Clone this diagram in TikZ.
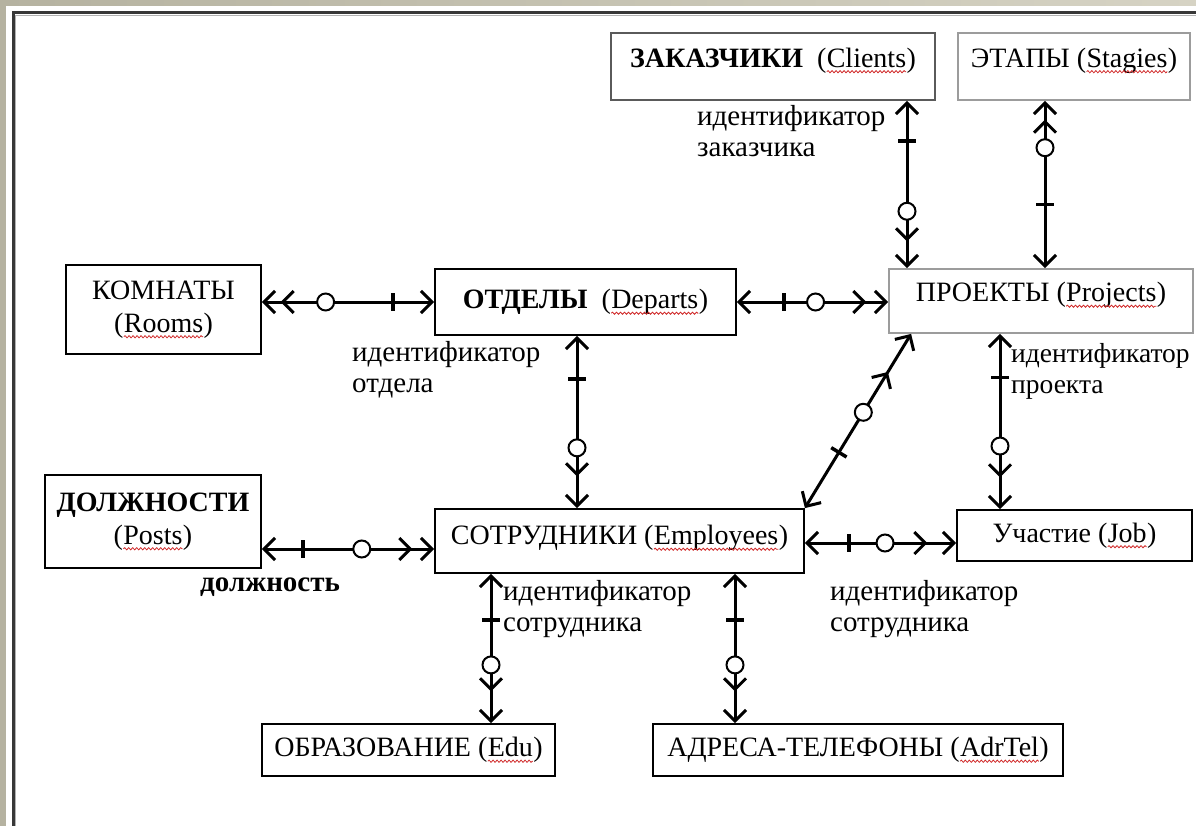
\documentclass[tikz,border=0pt]{standalone}
\usepackage{fontspec}
\setmainfont{Liberation Serif}
\usetikzlibrary{arrows.meta,decorations.pathmorphing}
\definecolor{frameA}{HTML}{B5B2A0}
\definecolor{frameB}{HTML}{D6D3C4}
\definecolor{boxgray}{HTML}{9C9C9C}
\definecolor{zakgray}{HTML}{5A5A5A}
\definecolor{wavered}{HTML}{D02828}
\newcommand\sq[1]{\tikz[baseline=(sqw.base),x=1pt,y=1pt]{\node[draw=none,fill=none,inner sep=0pt,outer sep=0pt,minimum width=0pt,minimum height=0pt,text depth=,anchor=base] (sqw) at (0,0) {#1};\draw[wavered,line width=0.8pt,decorate,decoration={snake,amplitude=1.1pt,segment length=4pt}] ([yshift=-4.5pt]sqw.base west) -- ([yshift=-4.5pt]sqw.base east);}}
\tikzset{
  tA/.tip={Straight Barb[length=11pt,width=22pt]},
  tAAa/.tip={Straight Barb[length=11pt,width=22pt,sep=4pt]Straight Barb[length=11pt,width=22pt]},
  tAAb/.tip={Straight Barb[length=11pt,width=22pt,sep=7pt]Straight Barb[length=11pt,width=22pt]},
  tAAc/.tip={Straight Barb[length=11pt,width=22pt,sep=12pt]Straight Barb[length=11pt,width=22pt]},
  tAAd/.tip={Straight Barb[length=11pt,width=22pt,sep=14pt]Straight Barb[length=11pt,width=22pt]},
  tAAe/.tip={Straight Barb[length=11pt,width=22pt,sep=17pt]Straight Barb[length=11pt,width=22pt]},
  tAAf/.tip={Straight Barb[length=11pt,width=22pt,sep=30pt]Straight Barb[length=11pt,width=22pt]},
  ent/.style={draw=black,line width=1.8pt,inner sep=0pt,align=center,font=\fontsize{28}{33}\selectfont},
  con/.style={draw=black,line width=3pt},
  tk/.style={sloped,fill=black,draw=none,inner sep=0pt,outer sep=0pt,minimum width=3.5pt,minimum height=18pt},
  rg/.style={circle,draw=black,fill=white,line width=2pt,inner sep=0pt,minimum size=17pt},
  lbl/.style={align=left,anchor=west,inner sep=0pt,font=\fontsize{29}{31}\selectfont}
}
\begin{document}
\begin{tikzpicture}[x=1pt,y=-1pt]
\useasboundingbox (0,0) rectangle (1196,826);
% frame
\shade[left color=frameA,right color=frameB] (0,0) rectangle (1196,826);
\fill[white] (6,6) rectangle (1196,826);
\draw[line width=3pt,draw=black!78] (13,826) -- (13,13) -- (1196,13);
\draw[line width=1.2pt,draw=black!30] (15.8,826) -- (15.8,15.8) -- (1196,15.8);
% entities
\node[ent,draw=zakgray,minimum width=324,minimum height=67,text depth=18pt] (zak) at (773,66.5) {\textbf{ЗАКАЗЧИКИ}\ \ (\sq{Clients})};
\node[ent,draw=boxgray,minimum width=232,minimum height=67,text depth=18pt] (eta) at (1074,66.5) {ЭТАПЫ (\sq{Stagies})};
\node[ent,minimum width=195,minimum height=89] (kom) at (163.5,309.5) {КОМНАТЫ\\(\sq{Rooms})};
\node[ent,minimum width=301,minimum height=66] (otd) at (585.5,302) {\textbf{ОТДЕЛЫ}\ \ (\sq{Departs})};
\node[ent,draw=boxgray,minimum width=304,minimum height=64,text depth=18pt] (prj) at (1041,301) {ПРОЕКТЫ (\sq{Projects})};
\node[ent,minimum width=216,minimum height=93] (dol) at (153,521.5) {\textbf{ДОЛЖНОСТИ}\\(\sq{Posts})};
\node[ent,minimum width=369,minimum height=64,text depth=12pt] (sot) at (619.5,541) {СОТРУДНИКИ (\sq{Employees})};
\node[ent,minimum width=235,minimum height=51] (uch) at (1074.5,535.5) {Участие (\sq{Job})};
\node[ent,minimum width=293,minimum height=52] (edu) at (408.5,750) {ОБРАЗОВАНИЕ (\sq{Edu})};
\node[ent,minimum width=410,minimum height=52] (adr) at (858,750) {АДРЕСА-ТЕЛЕФОНЫ (\sq{AdrTel})};
% connectors
\draw[con,arrows={tAAa-tA}] (kom.east |- otd.west) -- (otd.west)
  node[rg,pos=0.37] (r1) {} node[tk,pos=0.76] (t1) {};
\draw[con,arrows={tA-tAAb}] (otd.east) -- (otd.east -| prj.west)
  node[tk,pos=0.31] (t2) {} node[rg,pos=0.52] (r2) {};
\draw[con,arrows={tA-tAAc}] ([xshift=134]zak.south) -- ([xshift=134]zak.south |- prj.north)
  node[tk,pos=0.24] (t3) {} node[rg,pos=0.66] (r3) {};
\draw[con,arrows={tAAa-tA}] ([xshift=-29]eta.south) -- ([xshift=-29]eta.south |- prj.north)
  node[rg,pos=0.28] (r4) {} node[tk,pos=0.62] (t4) {};
\draw[con,arrows={tA-tAAe}] ([xshift=-8.5]otd.south) -- ([xshift=-8.5]otd.south |- sot.north)
  node[tk,pos=0.25] (t5) {} node[rg,pos=0.65] (r5) {};
\draw[con,arrows={tAAf-tA}] ([xshift=23]prj.south west) -- (sot.north east)
  node[rg,pos=0.45] (r6) {} node[tk,pos=0.68] (t6) {};
\draw[con,arrows={tA-tAAe}] ([xshift=-41]prj.south) -- ([xshift=-41]prj.south |- uch.north)
  node[tk,pos=0.25] (t7) {} node[rg,pos=0.64] (r7) {};
\draw[con,arrows={tA-tAAb}] ([yshift=-27.5]dol.east) -- ([yshift=-27.5]dol.east -| sot.west)
  node[tk,pos=0.24] (t8) {} node[rg,pos=0.58] (r8) {};
\draw[con,arrows={tA-tAAd}] ([yshift=-2]sot.east) -- ([yshift=-2]sot.east -| uch.west)
  node[tk,pos=0.29] (t9) {} node[rg,pos=0.53] (r9) {};
\draw[con,arrows={tA-tAAe}] ([xshift=-128.5]sot.south) -- ([xshift=-128.5]sot.south |- edu.north)
  node[tk,pos=0.31] (t10) {} node[rg,pos=0.61] (r10) {};
\draw[con,arrows={tA-tAAe}] ([xshift=115.5]sot.south) -- ([xshift=115.5]sot.south |- adr.north)
  node[tk,pos=0.31] (t11) {} node[rg,pos=0.61] (r11) {};
% labels
\node[lbl] (l1) at (697,131.5) {идентификатор\\заказчика};
\node[lbl] (l2) at (352,370) {идентификатор\\отдела};
\node[lbl,font=\fontsize{27.5}{31}\selectfont] (l3) at (1011,371.5) {идентификатор\\проекта};
\node[lbl] (l4) at (200,587) {\textbf{должность}};
\node[lbl] (l5) at (503,609) {идентификатор\\сотрудника};
\node[lbl] (l6) at (830,609) {идентификатор\\сотрудника};
\end{tikzpicture}
\end{document}
